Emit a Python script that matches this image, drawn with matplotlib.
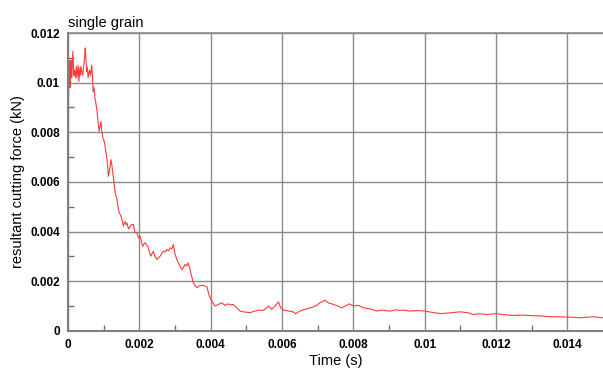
import matplotlib.pyplot as plt
import numpy as np

plt.rcParams['font.family'] = ['Liberation Sans', 'DejaVu Sans']

# time in ms, force in 1e-3 kN
t_ms = [0.000, 0.005, 0.010, 0.020, 0.030, 0.040, 0.050, 0.065, 0.080, 0.100,
        0.115, 0.130, 0.145, 0.160, 0.180, 0.200, 0.215, 0.230, 0.245, 0.260,
        0.280, 0.300, 0.315, 0.330, 0.345, 0.360, 0.385, 0.410, 0.430, 0.450,
        0.465, 0.480, 0.500, 0.520, 0.540, 0.560, 0.580, 0.600, 0.630, 0.660,
        0.680, 0.700, 0.725, 0.750, 0.780, 0.810, 0.840, 0.870, 0.895, 0.920,
        0.945, 0.970, 1.000, 1.030, 1.055, 1.080, 1.105, 1.130, 1.165, 1.200,
        1.220, 1.240, 1.270, 1.295, 1.320, 1.345, 1.370, 1.410, 1.435, 1.460,
        1.485, 1.510, 1.550, 1.575, 1.600, 1.625, 1.650, 1.675, 1.700, 1.740,
        1.790, 1.830, 1.855, 1.880, 1.930, 1.970, 2.020, 2.055, 2.090, 2.125,
        2.160, 2.205, 2.250, 2.285, 2.320, 2.355, 2.390, 2.440, 2.490, 2.535,
        2.580, 2.625, 2.670, 2.720, 2.770, 2.815, 2.860, 2.905, 2.950, 3.000,
        3.045, 3.090, 3.140, 3.190, 3.235, 3.280, 3.325, 3.370, 3.440, 3.510,
        3.560, 3.610, 3.700, 3.790, 3.890, 3.960, 4.030, 4.120, 4.210, 4.310,
        4.400, 4.490, 4.560, 4.630, 4.730, 4.820, 4.890, 4.960, 5.030, 5.100,
        5.170, 5.240, 5.310, 5.380, 5.450, 5.520, 5.620, 5.710, 5.800, 5.900,
        5.960, 6.040, 6.110, 6.180, 6.250, 6.320, 6.380, 6.500, 6.570, 6.640,
        6.710, 6.780, 6.850, 6.920, 6.990, 7.060, 7.130, 7.200, 7.300, 7.370,
        7.440, 7.510, 7.580, 7.670, 7.740, 7.810, 7.890, 8.000, 8.070, 8.140,
        8.210, 8.280, 8.380, 8.470, 8.560, 8.650, 8.750, 8.840, 8.930, 9.030,
        9.120, 9.210, 9.300, 9.400, 9.500, 9.590, 9.680, 9.780, 9.900, 10.030,
        10.150, 10.290, 10.430, 10.570, 10.710, 10.850, 10.990, 11.100, 11.220, 11.360,
        11.500, 11.620, 11.750, 11.880, 12.020, 12.130, 12.250, 12.360, 12.480, 12.590,
        12.700, 12.820, 12.950, 13.120, 13.300, 13.450, 13.610, 13.800, 13.980, 14.150,
        14.350, 14.540, 14.730, 14.870, 15.000]
force = [0.00, 6.80, 9.40, 10.20, 10.90, 10.40, 9.80, 10.50, 10.90, 10.20,
         10.60, 11.26, 10.80, 10.30, 10.50, 10.20, 10.45, 10.65, 10.20, 10.40,
         10.70, 10.05, 10.35, 10.60, 10.30, 10.65, 10.45, 10.30, 10.60, 10.90,
         11.10, 11.40, 10.90, 10.45, 10.60, 10.20, 10.35, 10.50, 10.30, 10.70,
         10.30, 9.65, 9.80, 9.40, 9.15, 8.85, 8.40, 8.04, 8.25, 8.44,
         8.05, 7.79, 7.70, 7.50, 7.25, 7.03, 6.70, 6.23, 6.50, 6.90,
         6.75, 6.50, 6.10, 5.85, 5.56, 5.45, 5.30, 4.89, 4.75, 4.70,
         4.60, 4.49, 4.22, 4.35, 4.40, 4.28, 4.35, 4.20, 4.10, 4.22,
         4.29, 4.29, 4.10, 3.95, 3.95, 3.75, 3.81, 3.60, 3.41, 3.50,
         3.55, 3.45, 3.35, 3.15, 3.01, 3.12, 3.21, 3.00, 2.88, 2.95,
         3.01, 3.12, 3.21, 3.18, 3.28, 3.22, 3.35, 3.30, 3.48, 3.08,
         2.90, 2.74, 2.60, 2.47, 2.55, 2.68, 2.62, 2.74, 2.34, 1.94,
         1.82, 1.74, 1.83, 1.83, 1.78, 1.40, 1.20, 1.00, 1.07, 1.13,
         1.03, 1.09, 1.05, 1.07, 0.93, 0.80, 0.78, 0.76, 0.75, 0.73,
         0.77, 0.80, 0.83, 0.84, 0.82, 0.87, 1.00, 0.87, 1.00, 1.17,
         0.93, 0.84, 0.82, 0.80, 0.79, 0.76, 0.69, 0.80, 0.84, 0.87,
         0.89, 0.93, 0.95, 1.00, 1.05, 1.13, 1.18, 1.24, 1.13, 1.10,
         1.07, 1.03, 1.00, 0.93, 0.98, 1.03, 1.09, 1.00, 1.02, 1.03,
         0.98, 0.93, 0.91, 0.89, 0.84, 0.80, 0.83, 0.84, 0.81, 0.80,
         0.83, 0.85, 0.83, 0.84, 0.82, 0.80, 0.81, 0.82, 0.81, 0.80,
         0.76, 0.73, 0.70, 0.71, 0.73, 0.75, 0.77, 0.75, 0.73, 0.66,
         0.69, 0.68, 0.66, 0.68, 0.70, 0.67, 0.65, 0.64, 0.62, 0.63,
         0.64, 0.63, 0.62, 0.61, 0.60, 0.58, 0.57, 0.57, 0.56, 0.55,
         0.53, 0.55, 0.57, 0.55, 0.53]

x_ticks = [0, 0.002, 0.004, 0.006, 0.008, 0.01, 0.012, 0.014]
x_labels = ['0', '0.002', '0.004', '0.006', '0.008', '0.01', '0.012', '0.014']
y_ticks = [0, 0.002, 0.004, 0.006, 0.008, 0.01, 0.012]
y_labels = ['0', '0.002', '0.004', '0.006', '0.008', '0.01', '0.012']

t = np.array(t_ms) * 1e-3
f = np.array(force) * 1e-3

fig = plt.figure(figsize=(6.03, 3.71), dpi=100)
ax = fig.add_axes([0.113, 0.108, 0.887, 0.803])

ax.plot(t, f, color='#ff3a3a', lw=0.8)

ax.set_xlim(0, 0.015)
ax.set_ylim(0, 0.012)
ax.set_xticks(x_ticks)
ax.set_xticklabels(x_labels, fontweight='bold', fontsize=8.5)
ax.set_yticks(y_ticks)
ax.set_yticklabels(y_labels, fontweight='bold', fontsize=8.5)
ax.set_xticks(np.arange(0.001, 0.015, 0.002), minor=True)
ax.set_yticks(np.arange(0.001, 0.012, 0.002), minor=True)
ax.tick_params(which='major', direction='in', length=0, pad=6)
ax.tick_params(which='minor', direction='in', length=4, width=1, color='#707070')

ax.grid(True, which='major', color='#8a8a8a', lw=1)
for s in ['top', 'right']:
    ax.spines[s].set_visible(False)
for s in ['left', 'bottom']:
    ax.spines[s].set_color('#808080')
    ax.spines[s].set_linewidth(1.5)
ax.axhline(0.012, color='#8a8a8a', lw=1.2, clip_on=False)

ax.set_xlabel('Time (s)', fontsize=10.5, labelpad=2)
ax.set_ylabel('resultant cutting force (kN)', fontsize=10.5, labelpad=4)
ax.set_title('single grain', fontsize=10.5, loc='left', pad=4)

fig.savefig('out.png', dpi=100)
